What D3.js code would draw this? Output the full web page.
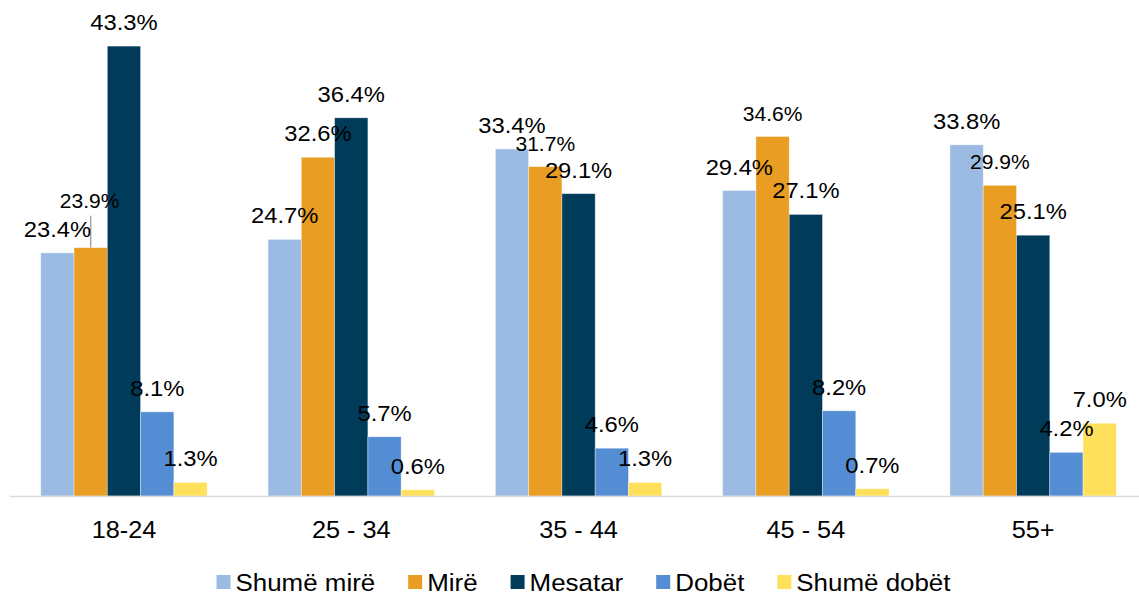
<!DOCTYPE html>
<html>
<head>
<meta charset="utf-8">
<script src="https://cdn.jsdelivr.net/npm/d3@7"></script>
<style>
  body { margin: 0; background: #fff; }
  svg { display: block; font-family: "Liberation Sans", Arial, sans-serif; }
</style>
</head>
<body>
<div id="chart"></div>
<script>
const ageGroups = ["18-24", "25 - 34", "35 - 44", "45 - 54", "55+"];
const ratings = ["Shumë mirë", "Mirë", "Mesatar", "Dobët", "Shumë dobët"];

const shumeMire = [23.4, 24.7, 33.4, 29.4, 33.8];
const mire = [23.9, 32.6, 31.7, 34.6, 29.9];
const mesatar = [43.3, 36.4, 29.1, 27.1, 25.1];
const dobet = [8.1, 5.7, 4.6, 8.2, 4.2];
const shumeDobet = [1.3, 0.6, 1.3, 0.7, 7.0];

const seriesValues = [shumeMire, mire, mesatar, dobet, shumeDobet];

const colors = ["#9BBBE3", "#E99D22", "#013B5A", "#558DD5", "#FFE05A"];

// labels that were moved / shrunk by hand in the original
const labelNudge = {
  "18-24|Mirë": { dx: -1, dy: -24, small: true, leader: true },
  "35 - 44|Mirë": { small: true },
  "45 - 54|Mirë": { small: true },
  "55+|Mirë": { small: true }
};

const W = 1139, H = 595;
const baseY = 496;
const stretch = 1.08; // original text is a bit wide

const svg = d3.select("#chart")
  .append("svg")
  .attr("width", W)
  .attr("height", H);

const x0 = d3.scaleBand()
  .domain(ageGroups)
  .range([10.3, 1146.8])
  .paddingInner(0.268)
  .paddingOuter(0.134);

const x1 = d3.scaleBand()
  .domain(ratings)
  .range([0, x0.bandwidth()]);

const y = d3.scaleLinear()
  .domain([0, 45])
  .range([baseY, baseY - 45 * 10.39]);

const color = d3.scaleOrdinal().domain(ratings).range(colors);

const data = [];
ageGroups.forEach((g, gi) => {
  ratings.forEach((r, ri) => {
    data.push({ group: g, rating: r, value: seriesValues[ri][gi] });
  });
});

const nudge = d => labelNudge[d.group + "|" + d.rating] || {};
const barMid = d => x0(d.group) + x1(d.rating) + x1.bandwidth() / 2;

svg.append("g")
  .selectAll("rect")
  .data(data)
  .join("rect")
  .attr("x", d => x0(d.group) + x1(d.rating))
  .attr("y", d => y(d.value))
  .attr("width", x1.bandwidth())
  .attr("height", d => baseY - y(d.value))
  .attr("fill", d => color(d.rating))
  .attr("stroke", "#fff")
  .attr("stroke-opacity", 0.45)
  .attr("stroke-width", 0.8);

// baseline
svg.append("line")
  .attr("x1", 10)
  .attr("x2", W)
  .attr("y1", baseY + 0.5)
  .attr("y2", baseY + 0.5)
  .attr("stroke", "#d9d9d9")
  .attr("stroke-width", 1.5);

// category labels
const xAxis = svg.append("g")
  .attr("transform", `translate(0,${baseY})`)
  .call(d3.axisBottom(x0).tickSize(0).tickPadding(0));
xAxis.select(".domain").remove();
xAxis.selectAll("text")
  .attr("y", 0)
  .attr("dy", null)
  .attr("transform", `translate(0,42) scale(${stretch + 0.02},1)`)
  .attr("fill", "#000")
  .style("font-size", "23px")
  .style("font-family", "'Liberation Sans', Arial, sans-serif");

// leader lines
svg.append("g")
  .selectAll("line")
  .data(data.filter(d => nudge(d).leader))
  .join("line")
  .attr("x1", barMid)
  .attr("x2", barMid)
  .attr("y1", d => y(d.value) - 16 + nudge(d).dy + 8)
  .attr("y2", d => y(d.value))
  .attr("stroke", "#a6a6a6")
  .attr("stroke-width", 1.5);

// value labels
svg.append("g")
  .selectAll("text")
  .data(data)
  .join("text")
  .attr("transform", d => {
    const n = nudge(d);
    const tx = barMid(d) + (n.dx || 0);
    const ty = y(d.value) - 16 + (n.dy || 0);
    return `translate(${tx},${ty}) scale(${stretch},1)`;
  })
  .attr("text-anchor", "middle")
  .style("font-size", d => (nudge(d).small ? "19.5px" : "22px"))
  .attr("fill", "#000")
  .text(d => d.value.toFixed(1) + "%");

// legend
const legend = svg.append("g").attr("transform", "translate(0,591)");
const items = legend.selectAll("g")
  .data(ratings)
  .join("g");

items.append("rect")
  .attr("y", -16)
  .attr("width", 14)
  .attr("height", 14)
  .attr("fill", d => color(d));

items.append("text")
  .attr("transform", `translate(19,0) scale(${stretch},1)`)
  .style("font-size", "24px")
  .attr("fill", "#000")
  .text(d => d);

let cursor = 0;
const offsets = [];
items.each(function () {
  offsets.push(cursor);
  const w = 19 + d3.select(this).select("text").node().getComputedTextLength() * stretch;
  cursor += w + 33;
});
const total = cursor - 33;
const startX = 583.5 - total / 2;
items.attr("transform", (d, i) => `translate(${startX + offsets[i]},0)`);
</script>
</body>
</html>
